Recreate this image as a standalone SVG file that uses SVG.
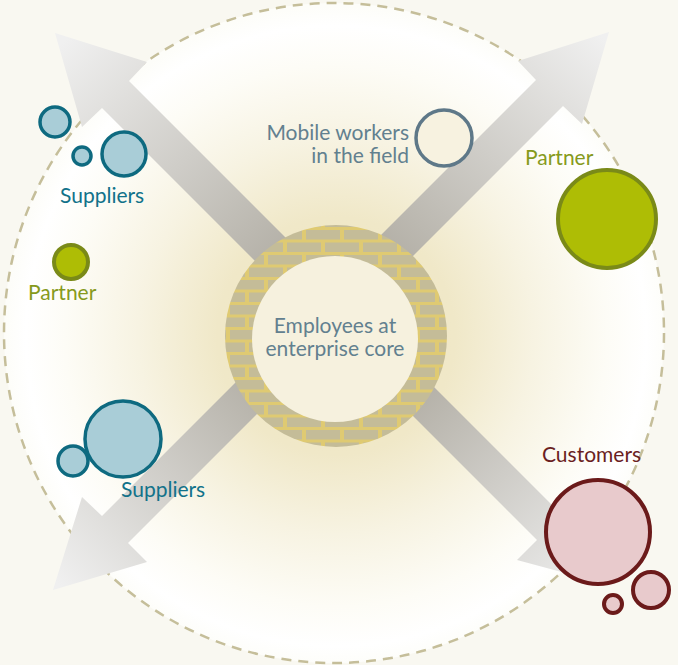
<svg xmlns="http://www.w3.org/2000/svg" width="678" height="665" viewBox="0 0 678 665">
<defs>
<style>
.lbl{font-family:"Lato","Liberation Sans",Arial,sans-serif;font-size:21px}
.sup{fill:#a9cdd7;stroke:#0e6a80;stroke-width:3.5}
.supt{fill:#12728a}
.par{fill:#aebd05;stroke:#7a8a18;stroke-width:4}
.part{fill:#869a1c}
.cus{fill:#e8cacc;stroke:#6b1a1a;stroke-width:4}
</style>
<radialGradient id="glow" cx="336" cy="336" r="330" gradientUnits="userSpaceOnUse">
<stop offset="0" stop-color="#efe6c0"/>
<stop offset="0.36" stop-color="#f0e8c8"/>
<stop offset="0.6" stop-color="#f7f3e2"/>
<stop offset="0.82" stop-color="#fdfcf6"/>
<stop offset="0.94" stop-color="#ffffff"/>
<stop offset="1" stop-color="#fdfdf9"/>
</radialGradient>
<linearGradient id="gUL" gradientUnits="userSpaceOnUse" x1="290" y1="290" x2="60" y2="45">
<stop offset="0" stop-color="#aeaaa0"/><stop offset="1" stop-color="#f0f0f0"/>
</linearGradient>
<linearGradient id="gUR" gradientUnits="userSpaceOnUse" x1="385" y1="285" x2="605" y2="40">
<stop offset="0" stop-color="#aeaaa0"/><stop offset="1" stop-color="#f0f0f0"/>
</linearGradient>
<linearGradient id="gLL" gradientUnits="userSpaceOnUse" x1="285" y1="370" x2="60" y2="585">
<stop offset="0" stop-color="#aeaaa0"/><stop offset="1" stop-color="#f0f0f0"/>
</linearGradient>
<linearGradient id="gLR" gradientUnits="userSpaceOnUse" x1="400" y1="370" x2="600" y2="580">
<stop offset="0" stop-color="#aeaaa0"/><stop offset="1" stop-color="#eeeeee"/>
</linearGradient>
<pattern id="bricks" patternUnits="userSpaceOnUse" x="0" y="228" width="38" height="25">
<rect width="38" height="25" fill="#dfca72"/>
<rect x="2" y="2" width="34" height="9.5" fill="#c4bc98"/>
<rect x="-17" y="14.5" width="34" height="9.5" fill="#c4bc98"/>
<rect x="21" y="14.5" width="34" height="9.5" fill="#c4bc98"/>
</pattern>
</defs>
<rect width="678" height="665" fill="#f9f8f1"/>
<circle cx="334" cy="333" r="330" fill="url(#glow)"/>
<circle cx="334" cy="333" r="330" fill="none" stroke="#c5be9a" stroke-width="2.5" stroke-dasharray="10 7"/>
<g id="connectors">
<polygon points="55,33 147,62 129,81 300,252 272,278 102,108 82,127" fill="url(#gUL)"/>
<polygon points="609,32 582,124 563,106 398,271 370,246 536,80 518,61" fill="url(#gUR)"/>
<polygon points="53,590 82,497 102,516 265,353 290,381 128,543 147,562" fill="url(#gLL)"/>
<polygon points="400,353 562,515 582,495 606,584 517,560 537,540 375,378" fill="url(#gLR)"/>
</g>
<g id="core">
<circle cx="336" cy="336" r="111" fill="url(#bricks)"/>
<circle cx="335" cy="339" r="83" fill="#f6f1de"/>
<text class="lbl" x="335" y="333" text-anchor="middle" fill="#62808f">Employees at</text>
<text class="lbl" x="335" y="356" text-anchor="middle" fill="#62808f">enterprise core</text>
</g>
<g id="mobile-workers">
<circle cx="444" cy="138" r="28" fill="#f7f2e0" stroke="#5e7888" stroke-width="3.5"/>
<text class="lbl" x="409" y="140" text-anchor="end" fill="#62808f">Mobile workers</text>
<text class="lbl" x="409" y="163" text-anchor="end" fill="#62808f">in the field</text>
</g>
<g id="suppliers-top">
<circle class="sup" cx="55" cy="122" r="15"/>
<circle class="sup" cx="82" cy="156" r="9"/>
<circle class="sup" cx="124" cy="154" r="22"/>
<text class="lbl supt" x="60" y="203">Suppliers</text>
</g>
<g id="partner-left">
<circle class="par" cx="71" cy="262" r="17"/>
<text class="lbl part" x="28" y="300">Partner</text>
</g>
<g id="partner-right">
<circle class="par" cx="607" cy="219" r="49"/>
<text class="lbl part" x="525" y="165">Partner</text>
</g>
<g id="suppliers-bottom">
<circle class="sup" cx="123" cy="439" r="38"/>
<circle class="sup" cx="73" cy="461" r="15"/>
<text class="lbl supt" x="121" y="497">Suppliers</text>
</g>
<g id="customers">
<circle class="cus" cx="598" cy="532" r="52"/>
<circle class="cus" cx="651" cy="590" r="18"/>
<circle class="cus" cx="613" cy="604" r="9"/>
<text class="lbl" x="542" y="462" fill="#6b1f1f">Customers</text>
</g>
</svg>
